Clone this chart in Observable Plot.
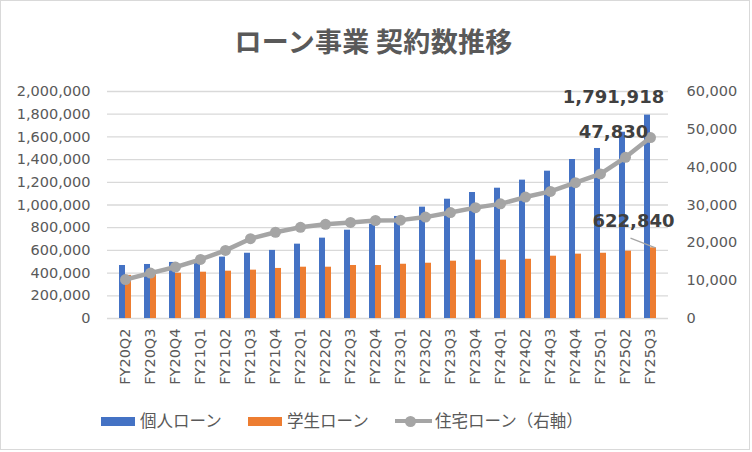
<!DOCTYPE html>
<html><head><meta charset="utf-8">
<script src="https://cdn.jsdelivr.net/npm/d3@7"></script>
<script src="https://cdn.jsdelivr.net/npm/@observablehq/plot@0.6"></script>
<style>
body{margin:0;background:#fff;}
#wrap{position:relative;width:752px;height:452px;overflow:hidden;background:#fff;}
#frame{position:absolute;left:0;top:0;width:748px;height:448px;border:1px solid #d9d9d9;pointer-events:none;}
#title{position:absolute;left:0;top:26px;width:747px;text-align:center;font-family:"Noto Sans CJK JP";font-weight:bold;font-size:27px;line-height:30px;color:#595959;white-space:nowrap;letter-spacing:0.3px;}
#chart{position:absolute;left:0;top:0;}
.lg{position:absolute;font-family:"Noto Sans CJK JP";font-size:16.5px;line-height:20px;color:#595959;white-space:nowrap;top:410px;}
.sw{position:absolute;height:9px;width:34px;top:416.5px;}
.ln{position:absolute;height:4px;width:37px;top:419px;left:395px;background:#A5A5A5;}
.dt{position:absolute;width:11px;height:11px;border-radius:50%;top:415.5px;left:404.5px;background:#A5A5A5;}
</style></head>
<body>
<div id="wrap">
  <div id="chart"></div>
  <div id="title">ローン事業 契約数推移</div>
  <div class="sw" style="left:101px;background:#4472C4"></div>
  <div class="lg" style="left:140px">個人ローン</div>
  <div class="sw" style="left:248px;background:#ED7D31"></div>
  <div class="lg" style="left:287px">学生ローン</div>
  <div class="ln"></div><div class="dt"></div>
  <div class="lg" style="left:435px">住宅ローン（右軸）</div>
  <div id="frame"></div>
</div>
<script>
const categories = ["FY20Q2","FY20Q3","FY20Q4","FY21Q1","FY21Q2","FY21Q3","FY21Q4","FY22Q1","FY22Q2","FY22Q3","FY22Q4","FY23Q1","FY23Q2","FY23Q3","FY23Q4","FY24Q1","FY24Q2","FY24Q3","FY24Q4","FY25Q1","FY25Q2","FY25Q3"];
const personal = [467000,476000,494000,514000,541000,575000,600000,655000,708000,778000,831000,899000,981000,1051000,1110000,1148000,1219000,1298000,1401000,1498000,1641000,1791918];
const student = [380000,390000,399000,408000,417000,426000,441000,452000,452000,467000,467000,478000,487000,505000,514000,514000,522000,549000,567000,575000,593000,622840];
const housing = [10300,12000,13600,15600,18000,21100,22800,24100,24900,25400,25900,26000,26800,28000,29300,30300,32100,33600,35900,38200,42600,47830];
const leftTicks = [0,200000,400000,600000,800000,1000000,1200000,1400000,1600000,1800000,2000000];
const rightTicks = [0,10000,20000,30000,40000,50000,60000];
const leftMax = 2000000, rightMax = 60000;
const k = leftMax / rightMax;

const rows = categories.map((c, i) => ({c, p: personal[i], s: student[i], h: housing[i] * k, hv: housing[i]}));
const last = rows[rows.length - 1];
const prev = rows[rows.length - 2];
const fmt = d3.format(",");
const labelStyle = {fontFamily: "DejaVu Sans", fontWeight: "bold", fontSize: 18, fill: "#404040"};

const plot = Plot.plot({
  width: 752, height: 452,
  marginLeft: 107, marginRight: 84, marginTop: 91, marginBottom: 134,
  style: {fontFamily: "DejaVu Sans", fontSize: "14.5px", color: "#595959", background: "transparent", overflow: "visible"},
  x: {type: "band", domain: categories, paddingInner: 0.53, paddingOuter: 0.265},
  y: {domain: [0, leftMax]},
  marks: [
    Plot.gridY(leftTicks, {stroke: "#d9d9d9", strokeOpacity: 1, strokeWidth: 1.3}),
    Plot.barY(rows, {x: "c", y: "p", fill: "#4472C4", insetRight: 6}),
    Plot.barY(rows, {x: "c", y: "s", fill: "#ED7D31", insetLeft: 6}),
    Plot.line(rows, {x: "c", y: "h", stroke: "#A5A5A5", strokeWidth: 4.5}),
    Plot.dot(rows, {x: "c", y: "h", r: 5.5, fill: "#A5A5A5"}),
    Plot.axisY(leftTicks, {anchor: "left", tickFormat: fmt, tickSize: 0, tickPadding: 17, label: null, fill: "#595959"}),
    Plot.axisY(rightTicks.map(v => v * k), {anchor: "right", tickFormat: d => fmt(Math.round(d / k)), tickSize: 0, tickPadding: 18, label: null, fill: "#595959"}),
    Plot.axisX({tickRotate: -90, tickSize: 0, tickPadding: 10, label: null, fill: "#595959"}),
    Plot.link([{x1: last.c, y1: last.s, x2: prev.c, y2: last.s + 85000}], {x1: "x1", y1: "y1", x2: "x2", y2: "y2", dx: 5, stroke: "#A5A5A5", strokeWidth: 1.3}),
    Plot.text([last], {x: "c", y: "p", text: d => fmt(d.p), dx: -37, dy: -18, ...labelStyle}),
    Plot.text([last], {x: "c", y: "h", text: d => fmt(d.hv), dx: -37, dy: -5.5, ...labelStyle}),
    Plot.text([last], {x: "c", y: "s", text: d => fmt(d.s), dx: -17, dy: -27, ...labelStyle})
  ]
});
document.getElementById("chart").appendChild(plot);
</script>
</body></html>
